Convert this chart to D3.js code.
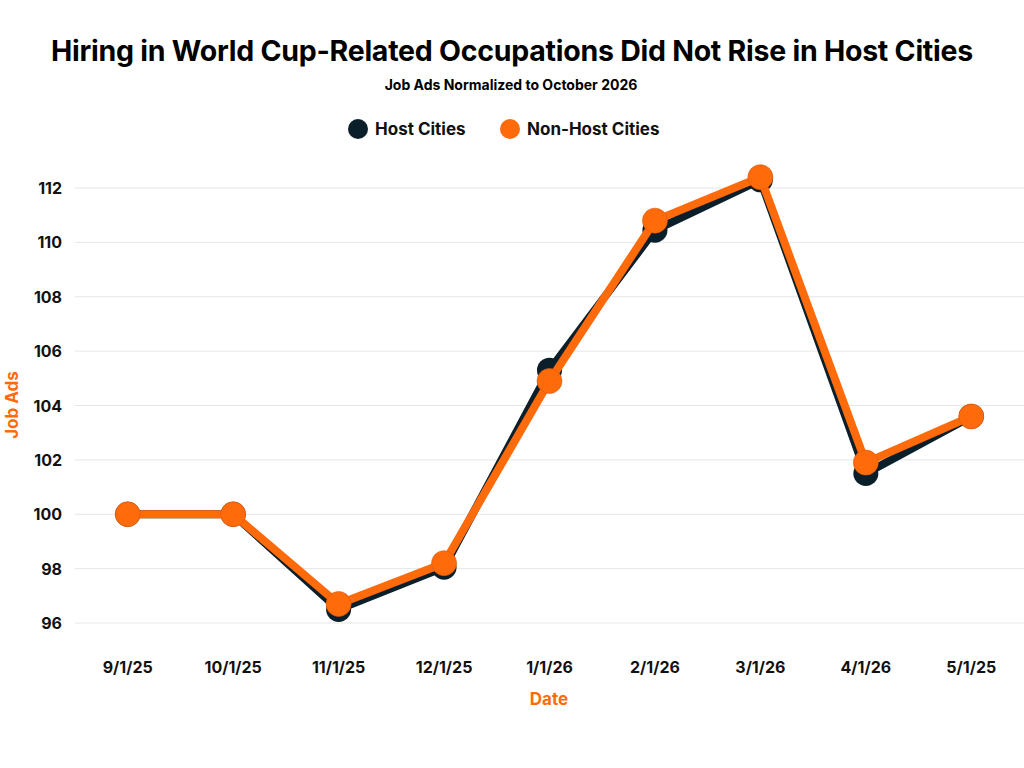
<!DOCTYPE html>
<html>
<head>
<meta charset="utf-8">
<script src="https://cdn.jsdelivr.net/npm/d3@7"></script>
<style>
  body { margin: 0; background: #fff; }
  svg text { font-family: "Inter", "Open Sans", sans-serif; font-weight: 700; }
</style>
</head>
<body>
<svg id="chart" width="1024" height="768"></svg>
<script>
// data
var dates = ["9/1/25", "10/1/25", "11/1/25", "12/1/25", "1/1/26", "2/1/26", "3/1/26", "4/1/26", "5/1/25"];
var hostVals = [100, 100, 96.5, 98.05, 105.3, 110.45, 112.3, 101.5, 103.6];
var nonHostVals = [100, 100, 96.7, 98.2, 104.9, 110.8, 112.4, 101.9, 103.6];
var yTicks = [96, 98, 100, 102, 104, 106, 108, 110, 112];

var seriesNames = ["Host Cities", "Non-Host Cities"];
var seriesColors = ["#0b1f2a", "#ff6b0b"];

var svg = d3.select("#chart");

var x = d3.scalePoint().domain(dates).range([75, 1024]).padding(0.5);
var y = d3.scaleLinear().domain([96, 112]).range([623, 188]);

// titles
svg.append("text").attr("x", 512).attr("y", 61)
  .attr("text-anchor", "middle").attr("font-size", 28.5).attr("fill", "#000")
  .attr("letter-spacing", -0.25)
  .text("Hiring in World Cup-Related Occupations Did Not Rise in Host Cities");
svg.append("text").attr("x", 511).attr("y", 90)
  .attr("text-anchor", "middle").attr("font-size", 14).attr("fill", "#000")
  .text("Job Ads Normalized to October 2026");

// legend
var leg = svg.append("g");
var legX = [358, 510];
seriesNames.forEach(function(n, i){
  leg.append("circle").attr("cx", legX[i]).attr("cy", 129).attr("r", 10).attr("fill", seriesColors[i]);
  leg.append("text").attr("x", legX[i] + 17).attr("y", 135)
    .attr("font-size", 17).attr("fill", "#111").text(n);
});

// grid + y labels
var gy = svg.append("g");
yTicks.forEach(function(t){
  gy.append("line").attr("x1", 75).attr("x2", 1024)
    .attr("y1", y(t)).attr("y2", y(t))
    .attr("stroke", "#e6e6e6").attr("stroke-width", 1);
  gy.append("text").attr("x", 62).attr("y", y(t) + 6)
    .attr("text-anchor", "end").attr("font-size", 16).attr("fill", "#111").text(t);
});

// x labels
dates.forEach(function(d){
  svg.append("text").attr("x", x(d)).attr("y", 673)
    .attr("text-anchor", "middle").attr("font-size", 16).attr("fill", "#111").text(d);
});

// axis titles
svg.append("text").attr("x", 549).attr("y", 705)
  .attr("text-anchor", "middle").attr("font-size", 17).attr("fill", "#ff6b0b").text("Date");
svg.append("text").attr("transform", "translate(18,405) rotate(-90)")
  .attr("text-anchor", "middle").attr("font-size", 17).attr("fill", "#ff6b0b").text("Job Ads");

// series
var line = d3.line().x(function(d, i){ return x(dates[i]); }).y(function(d){ return y(d); });
[hostVals, nonHostVals].forEach(function(vals, si){
  var g = svg.append("g");
  g.append("path").datum(vals).attr("d", line)
    .attr("fill", "none").attr("stroke", seriesColors[si])
    .attr("stroke-width", 8).attr("stroke-linejoin", "round");
  g.selectAll("circle").data(vals).enter().append("circle")
    .attr("cx", function(d, i){ return x(dates[i]); })
    .attr("cy", function(d){ return y(d); })
    .attr("r", 12.5)
    .attr("fill", seriesColors[si])
    .attr("stroke", si === 1 ? "#d9590a" : "none")
    .attr("stroke-width", 0.6);
});
</script>
</body>
</html>
